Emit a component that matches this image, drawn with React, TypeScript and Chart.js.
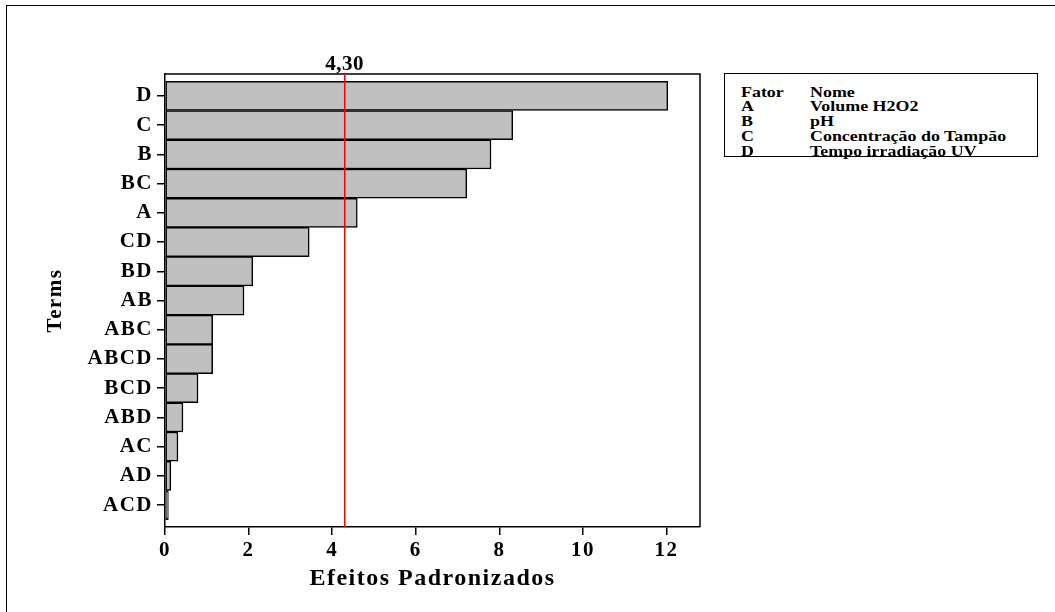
import React, { useEffect, useRef } from "react";
import { Chart, registerables } from "chart.js";

Chart.register(...registerables);

const terms = ["D", "C", "B", "BC", "A", "CD", "BD", "AB", "ABC", "ABCD", "BCD", "ABD", "AC", "AD", "ACD"];
const effects = [12.03, 8.32, 7.8, 7.22, 4.6, 3.45, 2.1, 1.89, 1.14, 1.14, 0.79, 0.43, 0.31, 0.14, 0.08];
const xTicks = [0, 2, 4, 6, 8, 10, 12];
const criticalValue = 4.3;
const criticalLabel = "4,30";
const factorCodes = ["A", "B", "C", "D"];
const factorNames = ["Volume H2O2", "pH", "Concentração do Tampão", "Tempo irradiação UV"];

const SERIF = "'Liberation Serif', 'Times New Roman', serif";

const overlay = {
  id: "overlay",
  beforeDraw(chart: any) {
    try {
      chart.ctx.letterSpacing = "1.5px";
    } catch (e) {}
  },
  afterDatasetsDraw(chart: any) {
    const { ctx, chartArea: a, scales } = chart;
    const x = scales.x;
    ctx.save();
    ctx.strokeStyle = "#000";
    ctx.lineWidth = 1.5;
    ctx.beginPath();
    ctx.moveTo(a.left, a.top);
    ctx.lineTo(a.right, a.top);
    ctx.lineTo(a.right, a.bottom);
    ctx.stroke();
    const px = x.getPixelForValue(criticalValue);
    ctx.strokeStyle = "#ff0000";
    ctx.lineWidth = 1.5;
    ctx.beginPath();
    ctx.moveTo(px, a.top);
    ctx.lineTo(px, a.bottom);
    ctx.stroke();
    ctx.fillStyle = "#000";
    ctx.font = `bold 21px ${SERIF}`;
    try {
      ctx.letterSpacing = "0.5px";
    } catch (e) {}
    ctx.textAlign = "center";
    ctx.textBaseline = "alphabetic";
    ctx.fillText(criticalLabel, px, 70);
    ctx.restore();
  },
};

export default function App() {
  const ref = useRef<HTMLCanvasElement>(null);

  useEffect(() => {
    const tickFont = { family: SERIF, size: 21, weight: "bold" as const };
    const chart = new Chart(ref.current as HTMLCanvasElement, {
      type: "bar",
      data: {
        datasets: [
          {
            data: effects.map((v, i) => ({ x: v, y: i })) as any,
            backgroundColor: "#c0c0c0",
            borderColor: "#000",
            borderWidth: 1.5,
            borderSkipped: false,
            barPercentage: 1,
            categoryPercentage: 1,
          },
        ],
      },
      options: {
        indexAxis: "y",
        responsive: false,
        animation: false,
        layout: { padding: { top: 74, right: 355, left: 0, bottom: 0 } },
        plugins: { legend: { display: false }, tooltip: { enabled: false } },
        scales: {
          x: {
            type: "linear",
            position: "bottom",
            min: 0,
            max: 12.8,
            offset: false,
            afterBuildTicks: (s: any) => {
              s.ticks = xTicks.map((v) => ({ value: v }));
            },
            afterFit: (s: any) => {
              s.height = 85;
            },
            grid: { offset: false, drawOnChartArea: false, drawTicks: true, tickLength: 8, color: "#000", lineWidth: 1.5 },
            border: { color: "#000", width: 1.5 },
            ticks: { color: "#000", font: tickFont, padding: 3, maxRotation: 0, autoSkip: false },
            title: {
              display: true,
              text: "Efeitos Padronizados",
              color: "#000",
              font: { family: SERIF, size: 24, weight: "bold", lineHeight: 1.2 },
              padding: { top: 0, bottom: 18.5 },
            },
          },
          y: {
            type: "linear",
            position: "left",
            min: -0.75,
            max: 14.75,
            reverse: true,
            offset: false,
            afterBuildTicks: (s: any) => {
              s.ticks = terms.map((_, i) => ({ value: i }));
            },
            afterFit: (s: any) => {
              s.width = 165;
            },
            grid: { offset: false, drawOnChartArea: false, drawTicks: true, tickLength: 8, color: "#000", lineWidth: 1.5 },
            border: { color: "#000", width: 1.5 },
            ticks: {
              color: "#000",
              font: tickFont,
              padding: 4,
              autoSkip: false,
              callback: (v: any) => terms[Math.round(Number(v))] ?? "",
            },
            title: {
              display: true,
              text: "Terms",
              color: "#000",
              font: { family: SERIF, size: 21, weight: "bold", lineHeight: 1.2 },
              padding: { top: 42.5, bottom: 0 },
            },
          },
        },
      } as any,
      plugins: [overlay],
    });
    return () => chart.destroy();
  }, []);

  // baselines relative to the legend box's outer top edge
  const rowBaselines = [23, 37.8, 52.6, 67.4, 82];
  const FS = 14;
  const legendText = (left: number, baseline: number): React.CSSProperties => ({
    position: "absolute",
    left,
    top: baseline - 11.5,
    fontFamily: SERIF,
    fontWeight: "bold",
    fontSize: FS,
    lineHeight: `${FS}px`,
    whiteSpace: "nowrap",
    color: "#000",
    transform: "scaleX(1.28)",
    transformOrigin: "0 0",
  });

  return (
    <div style={{ position: "fixed", left: 0, top: 0, width: 1055, height: 612, overflow: "hidden", background: "#fff" }}>
      <div
        style={{
          position: "absolute",
          left: 6,
          top: 5,
          width: 1200,
          height: 800,
          border: "1.5px solid #000",
        }}
      />
      <canvas ref={ref} width={1055} height={612} style={{ position: "absolute", left: 0, top: 0 }} />
      <div
        style={{
          position: "absolute",
          left: 724,
          top: 73,
          width: 314,
          height: 84,
          boxSizing: "border-box",
          border: "1.5px solid #000",
          background: "#fff",
        }}
      >
        <div style={legendText(15.5, rowBaselines[0])}>Fator</div>
        <div style={legendText(84.5, rowBaselines[0])}>Nome</div>
        {factorCodes.map((c, i) => (
          <React.Fragment key={c}>
            <div style={legendText(15.5, rowBaselines[i + 1])}>{c}</div>
            <div style={legendText(84.5, rowBaselines[i + 1])}>{factorNames[i]}</div>
          </React.Fragment>
        ))}
      </div>
    </div>
  );
}
